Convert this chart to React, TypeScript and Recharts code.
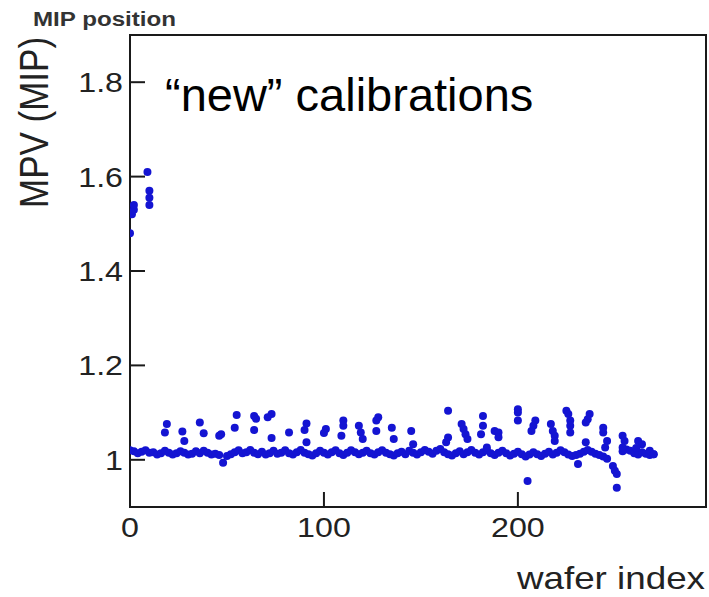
import { ReferenceArea, Scatter, ScatterChart, XAxis, YAxis } from "recharts";

type Pt = { idx: number; mpv: number };

const xTicks = [0, 100, 200];
const yTicks = [1, 1.2, 1.4, 1.6, 1.8];

// first wafers, still with the old offset
const earlyWafers: [number, number][] = [
  [0, 1.48], [1, 1.52], [2, 1.53], [2, 1.54],
  [9, 1.61], [10, 1.57], [10, 1.555], [10, 1.54],
];

// points sitting above / below the main band
const offsetWafers: [number, number][] = [
  [19, 1.076], [18, 1.058], [27, 1.06], [28, 1.04], [36, 1.079], [38, 1.056],
  [46, 1.051], [47, 1.054], [54, 1.068], [55, 1.095], [48, 0.994],
  [64, 1.093], [65, 1.087], [64, 1.063], [73, 1.097], [71, 1.09], [73, 1.046],
  [82, 1.058], [91, 1.077], [90, 1.063], [91, 1.037], [101, 1.065], [100, 1.057],
  [110, 1.083], [110, 1.072], [109, 1.051], [118, 1.072], [119, 1.058], [120, 1.044],
  [128, 1.09], [127, 1.083], [127, 1.061], [135, 1.068], [136, 1.044],
  [145, 1.061], [146, 1.033], [164, 1.104], [164, 1.047], [163, 1.037],
  [171, 1.076], [172, 1.065], [173, 1.054], [174, 1.044],
  [182, 1.093], [182, 1.072], [181, 1.054], [184, 1.026], [188, 1.061],
  [190, 1.058], [190, 1.048], [200, 1.107], [200, 1.1], [200, 1.083],
  [209, 1.083], [208, 1.072], [207, 1.061], [205, 0.955],
  [217, 1.076], [218, 1.061], [219, 1.051], [219, 1.04],
  [225, 1.104], [226, 1.097], [227, 1.083], [227, 1.072], [227, 1.058],
  [237, 1.097], [236, 1.086], [235, 1.079], [235, 1.037], [231, 0.991],
  [244, 1.068], [244, 1.058], [246, 1.04], [245, 1.026],
  [249, 0.987], [250, 0.977], [251, 0.97], [251, 0.941],
  [254, 1.051], [255, 1.04], [254, 1.026], [262, 1.04], [264, 1.033], [261, 1.025],
  [268, 1.019], [270, 1.012],
];

// main band around 1.015
const baseWafers: [number, number][] = [
  [0, 1.02], [2, 1.018], [4, 1.014], [6, 1.017], [8, 1.02], [10, 1.015],
  [12, 1.016], [14, 1.011], [16, 1.014], [18, 1.019], [20, 1.015], [22, 1.011],
  [24, 1.014], [26, 1.018], [28, 1.015], [30, 1.011], [32, 1.013], [34, 1.018],
  [36, 1.014], [38, 1.019], [40, 1.015], [42, 1.011], [44, 1.013], [46, 1.01],
  [50, 1.008], [52, 1.012], [54, 1.016], [56, 1.02], [58, 1.014],
  [60, 1.016], [62, 1.021], [64, 1.015], [66, 1.012], [68, 1.017], [70, 1.011],
  [72, 1.014], [74, 1.019], [76, 1.013], [78, 1.015], [80, 1.02], [82, 1.014],
  [84, 1.011], [86, 1.016], [88, 1.021], [90, 1.015], [92, 1.012], [94, 1.009],
  [96, 1.014], [98, 1.019], [100, 1.015], [102, 1.011], [104, 1.016], [106, 1.02],
  [108, 1.014], [110, 1.01], [112, 1.015], [114, 1.02], [116, 1.016], [118, 1.012],
  [120, 1.015], [122, 1.019], [124, 1.014], [126, 1.011], [128, 1.016], [130, 1.02],
  [132, 1.015], [134, 1.012], [136, 1.009], [138, 1.014], [140, 1.017], [142, 1.012],
  [144, 1.019], [146, 1.015], [148, 1.011], [150, 1.016], [152, 1.021], [154, 1.017],
  [156, 1.013], [158, 1.019], [160, 1.023], [162, 1.016], [164, 1.012], [166, 1.009],
  [168, 1.014], [170, 1.018], [172, 1.012], [174, 1.016], [176, 1.021], [178, 1.015],
  [180, 1.011], [182, 1.016], [184, 1.02], [186, 1.014], [188, 1.01], [190, 1.015],
  [192, 1.019], [194, 1.014], [196, 1.009], [198, 1.013], [200, 1.017], [202, 1.012],
  [204, 1.007], [206, 1.011], [208, 1.016], [210, 1.012], [212, 1.008], [214, 1.013],
  [216, 1.017], [218, 1.011], [220, 1.015], [222, 1.02], [224, 1.016], [226, 1.011],
  [228, 1.008], [230, 1.01], [232, 1.013], [234, 1.017], [236, 1.021], [238, 1.017],
  [240, 1.013], [242, 1.01], [244, 1.007], [246, 1.002], [254, 1.018], [256, 1.022],
  [258, 1.019], [260, 1.014], [262, 1.011], [264, 1.016], [266, 1.013], [268, 1.01],
  [270, 1.012],
];

const toPts = (rows: [number, number][]): Pt[] =>
  rows.map(([idx, mpv]) => ({ idx, mpv }));

const data: Pt[] = [
  ...toPts(baseWafers),
  ...toPts(offsetWafers),
  ...toPts(earlyWafers),
];

const FONT = '"Liberation Sans", Arial, Helvetica, sans-serif';
const INK = "#1a1a1a";
const DOT = "#1414d2";
// the source figure is stretched a bit horizontally
const SX = 1.15;

function YTick({ x, y, payload }: any) {
  return (
    <g>
      <line x1={x + 7} x2={x + 22} y1={y} y2={y} stroke={INK} strokeWidth={2} />
      <text
        transform={`translate(${x},${y}) scale(${SX},1)`}
        textAnchor="end"
        dy="0.36em"
        fontSize={28}
        fontFamily={FONT}
        fill="#222"
      >
        {payload.value}
      </text>
    </g>
  );
}

function XTick({ x, y, payload }: any) {
  return (
    <g>
      <line x1={x} x2={x} y1={y - 30} y2={y - 45} stroke={INK} strokeWidth={2} />
      <text
        transform={`translate(${x},${y}) scale(${SX},1)`}
        textAnchor="middle"
        fontSize={28}
        fontFamily={FONT}
        fill="#222"
      >
        {payload.value}
      </text>
    </g>
  );
}

const Dot = (props: any) => (
  <circle cx={props.cx} cy={props.cy} r={4} fill={DOT} />
);

export default function App() {
  return (
    <div
      style={{
        position: "absolute",
        left: 0,
        top: 0,
        width: 709,
        height: 597,
        background: "#fff",
      }}
    >
      <ScatterChart
        width={709}
        height={597}
        margin={{ top: 35, right: 3, bottom: 0, left: 0 }}
      >
        <XAxis
          dataKey="idx"
          type="number"
          domain={[0, 297]}
          ticks={xTicks}
          interval={0}
          allowDataOverflow
          height={90}
          axisLine={false}
          tickLine={false}
          tickSize={0}
          tickMargin={30}
          tick={<XTick />}
        />
        <YAxis
          dataKey="mpv"
          type="number"
          domain={[0.9, 1.9]}
          ticks={yTicks}
          interval={0}
          allowDataOverflow
          width={130}
          axisLine={false}
          tickLine={false}
          tickSize={0}
          tickMargin={7}
          tick={<YTick />}
        />
        <ReferenceArea
          x1={0}
          x2={297}
          y1={0.9}
          y2={1.9}
          fill="none"
          stroke={INK}
          strokeWidth={2}
          fillOpacity={0}
          ifOverflow="visible"
        />
        <Scatter data={data} shape={<Dot />} isAnimationActive={false} />
      </ScatterChart>
      <svg
        width={709}
        height={597}
        style={{ position: "absolute", left: 0, top: 0, pointerEvents: "none" }}
      >
        <text
          transform={`translate(33,26) scale(${SX},1)`}
          fontSize={21}
          fontWeight="bold"
          fontFamily={FONT}
          fill="#333"
        >
          MIP position
        </text>
        <text
          transform={`translate(47.5,208) rotate(-90) scale(1,${SX})`}
          fontSize={35}
          fontFamily={FONT}
          fill="#222"
        >
          MPV (MIP)
        </text>
        <text
          transform={`translate(705,589) scale(${SX},1)`}
          textAnchor="end"
          fontSize={32}
          fontFamily={FONT}
          fill="#222"
        >
          wafer index
        </text>
        <text x={165} y={111} fontSize={47} fontFamily={FONT} fill="#000">
          “new” calibrations
        </text>
      </svg>
    </div>
  );
}
